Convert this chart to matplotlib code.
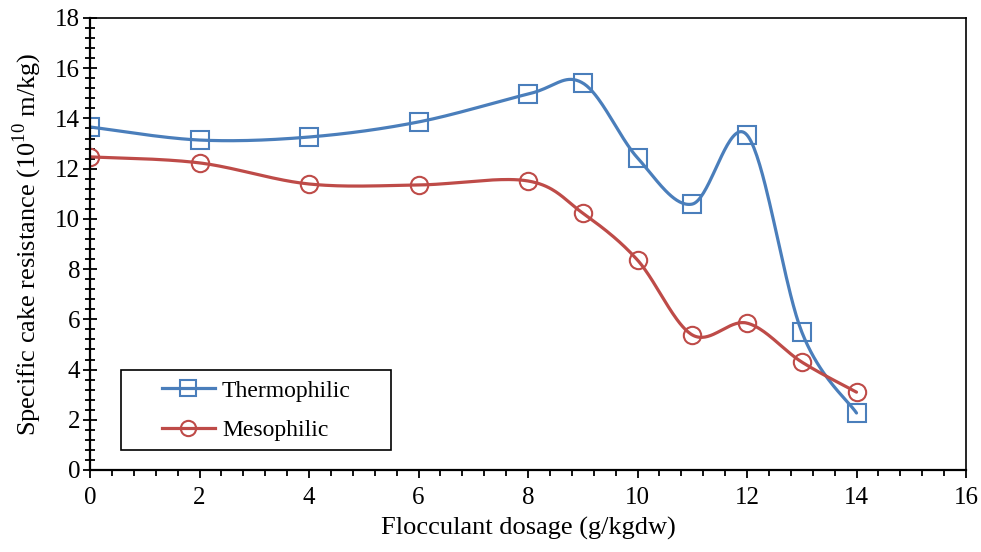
import numpy as np
import matplotlib.pyplot as plt
from matplotlib.patches import Rectangle
from matplotlib.ticker import MultipleLocator

# ========================
# Datos
# ========================

dosis = [0, 2, 4, 6, 8, 9, 10, 11, 12, 13, 14]
termofilico = [13.66, 13.14, 13.26, 13.86, 14.97, 15.41, 12.43, 10.59, 13.34, 5.50, 2.27]
mesofilico = [12.47, 12.23, 11.39, 11.35, 11.51, 10.23, 8.36, 5.38, 5.85, 4.30, 3.10]

etiquetas = ["Thermophilic", "Mesophilic"]
colores = ["#4A7EBB", "#BE4B48"]
marcadores = ["s", "o"]


def curva_suave(x, y, n=40):
    """Curva tipo Excel: Bezier cúbica con tangentes de Catmull-Rom."""
    p = np.column_stack([x, y]).astype(float)
    p = np.vstack([p[0], p, p[-1]])
    t = np.linspace(0, 1, n)[:, None]
    trozos = []
    for i in range(1, len(p) - 2):
        p0, p3 = p[i], p[i + 1]
        c1 = p0 + (p[i + 1] - p[i - 1]) / 6
        c2 = p3 - (p[i + 2] - p[i]) / 6
        b = ((1 - t) ** 3) * p0 + 3 * ((1 - t) ** 2) * t * c1 \
            + 3 * (1 - t) * t ** 2 * c2 + t ** 3 * p3
        trozos.append(b)
    c = np.vstack(trozos)
    return c[:, 0], c[:, 1]


plt.rcParams["font.family"] = ["Liberation Serif", "DejaVu Serif"]
plt.rcParams["mathtext.fontset"] = "custom"
plt.rcParams["mathtext.rm"] = "Liberation Serif"
plt.rcParams["font.size"] = 18

fig = plt.figure(figsize=(9.81, 5.52), dpi=100)
ax = fig.add_axes([90 / 981, 82 / 552, 876 / 981, 452 / 552])

for serie, etiqueta, color, marca in zip([termofilico, mesofilico], etiquetas, colores, marcadores):
    xs, ys = curva_suave(dosis, serie)
    ax.plot(xs, ys, color=color, lw=2.3, solid_capstyle="round")
    ax.plot(dosis, serie, ls="none", marker=marca, ms=12.5, mfc="none", mec=color, mew=1.5)
    ax.plot([], [], color=color, lw=2.3, marker=marca, ms=11, mfc="none",
            mec=color, mew=1.5, label=etiqueta)

ax.set_xlim(0, 16)
ax.set_ylim(0, 18)
ax.xaxis.set_major_locator(MultipleLocator(2))
ax.yaxis.set_major_locator(MultipleLocator(2))
ax.xaxis.set_minor_locator(MultipleLocator(0.4))
ax.yaxis.set_minor_locator(MultipleLocator(0.4))
ax.tick_params(axis="x", which="major", direction="out", length=6, width=1.3, labelsize=18, pad=6)
ax.tick_params(axis="x", which="minor", direction="out", length=4, width=1.3)
ax.tick_params(axis="y", which="major", direction="inout", length=10, width=1.3, labelsize=18, pad=2)
ax.tick_params(axis="y", which="minor", direction="inout", length=7, width=1.3)

for lado in ["left", "bottom"]:
    ax.spines[lado].set_linewidth(1.6)
for lado in ["top", "right"]:
    ax.spines[lado].set_linewidth(1.2)

ax.set_xlabel("Flocculant dosage (g/kgdw)", fontsize=19, labelpad=6)
ax.set_ylabel(r"Specific cake resistance (10$^{10}$ m/kg)", fontsize=19, labelpad=8)

# recuadro de la leyenda, como en Excel
ax.add_patch(Rectangle((0.0354, 0.0442), 0.308, 0.177, transform=ax.transAxes,
                       fill=True, facecolor="white", edgecolor="black", lw=1.2, zorder=4))
leg = ax.legend(loc="center left", bbox_to_anchor=(0.082, 0.1316), frameon=False,
                fontsize=17, handlelength=2.25, handletextpad=0.3, borderpad=0,
                borderaxespad=0, labelspacing=0.75)
leg.set_zorder(5)

fig.savefig("out.png", dpi=100)
